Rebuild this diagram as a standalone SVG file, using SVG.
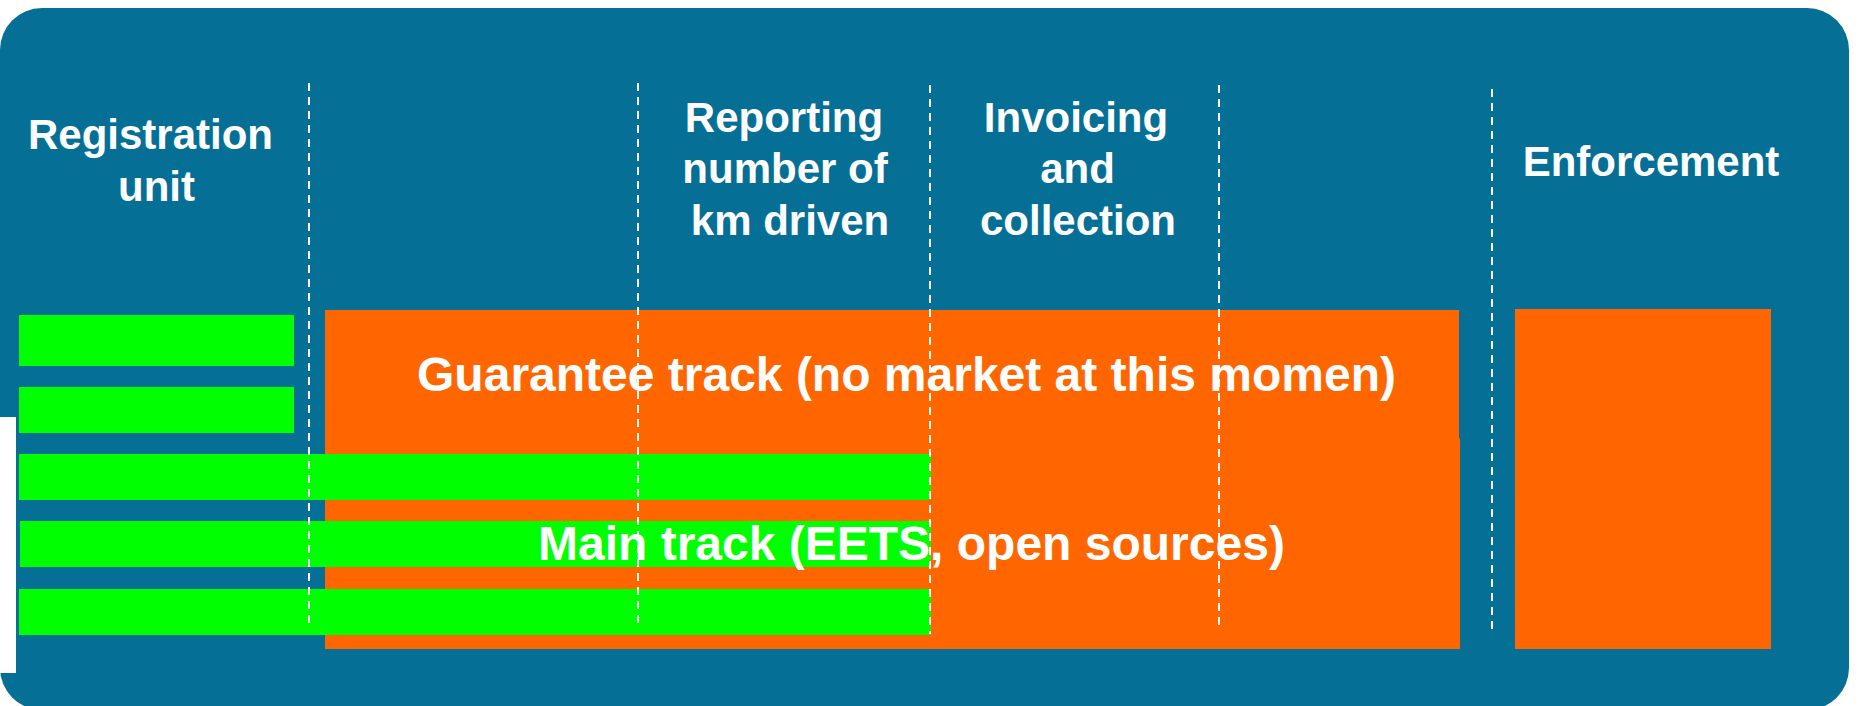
<svg xmlns="http://www.w3.org/2000/svg" width="1859" height="706" viewBox="0 0 1859 706">
  <style>
    .panel { fill: #056f96; }
    .orange { fill: #ff6600; }
    .green { fill: #00ff00; }
    .head { font-family: "Liberation Sans", Arial, sans-serif; font-weight: bold; font-size: 42px; fill: #ffffff; text-anchor: middle; }
    .track { font-family: "Liberation Sans", Arial, sans-serif; font-weight: bold; font-size: 48px; fill: #ffffff; }
    .divider { stroke: #ffffff; stroke-width: 2; stroke-dasharray: 8 6; fill: none; }
  </style>

  <!-- background panel -->
  <rect id="panel" class="panel" x="0" y="8" width="1849" height="702" rx="42" ry="42"/>
  <rect id="left-strip" x="0" y="417" width="16" height="256" fill="#ffffff"/>

  <!-- column headings -->
  <g id="head-registration">
    <text class="head" x="150.5" y="149">Registration</text>
    <text class="head" x="156.5" y="201">unit</text>
  </g>
  <g id="head-reporting">
    <text class="head" x="784" y="132">Reporting</text>
    <text class="head" x="785" y="183">number of</text>
    <text class="head" x="790" y="235">km driven</text>
  </g>
  <g id="head-invoicing">
    <text class="head" x="1076" y="132">Invoicing</text>
    <text class="head" x="1077.5" y="183">and</text>
    <text class="head" x="1078" y="235">collection</text>
  </g>
  <g id="head-enforcement">
    <text class="head" x="1651" y="176">Enforcement</text>
  </g>

  <!-- tracks -->
  <g id="guarantee-track">
    <rect class="orange" x="325" y="310" width="1134" height="129"/>
    <text class="track" x="906.5" y="391" text-anchor="middle">Guarantee track (no market at this momen)</text>
  </g>
  <g id="main-track">
    <rect class="orange" x="325" y="438.5" width="1135" height="210.5"/>
  </g>
  <g id="enforcement-block">
    <rect class="orange" x="1515" y="309" width="256" height="340"/>
  </g>

  <!-- registration bars -->
  <g id="bar-1"><rect class="green" x="19" y="315" width="275" height="51"/></g>
  <g id="bar-2"><rect class="green" x="19" y="387" width="275" height="46"/></g>
  <g id="bar-3"><rect class="green" x="19" y="454" width="912" height="46"/></g>
  <g id="bar-4"><rect class="green" x="20" y="521" width="911" height="46"/></g>
  <g id="bar-5"><rect class="green" x="19" y="589" width="912" height="46"/></g>

  <text id="main-track-label" class="track" x="538" y="560">Main track (EETS, open sources)</text>

  <!-- column dividers -->
  <g id="dividers">
    <line class="divider" x1="309" y1="83" x2="309" y2="627"/>
    <line class="divider" x1="638" y1="83" x2="638" y2="626"/>
    <line class="divider" x1="930" y1="85" x2="930" y2="634"/>
    <line class="divider" x1="1219" y1="85" x2="1219" y2="631"/>
    <line class="divider" x1="1492" y1="89" x2="1492" y2="633"/>
  </g>
</svg>
